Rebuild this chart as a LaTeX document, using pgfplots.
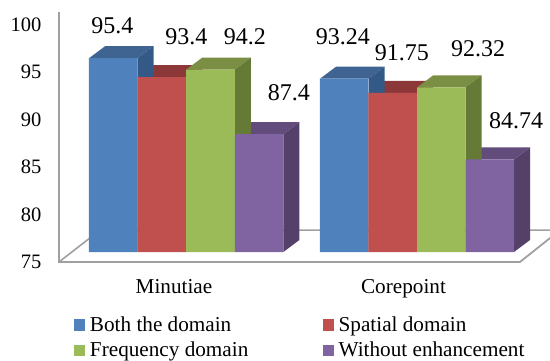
\documentclass[border=0pt]{standalone}
\usepackage{pgfplots}
\pgfplotsset{compat=1.18}
\usepackage{fontspec}
\setmainfont{Liberation Serif}
\definecolor{bluef}{HTML}{4F81BD}\definecolor{bluet}{HTML}{3F6492}\definecolor{blues}{HTML}{335A87}
\definecolor{redf}{HTML}{C0504D}\definecolor{redt}{HTML}{8C3838}\definecolor{reds}{HTML}{8C3836}
\definecolor{greenf}{HTML}{9BBB59}\definecolor{greent}{HTML}{7A8E44}\definecolor{greens}{HTML}{667A38}
\definecolor{purplef}{HTML}{8064A2}\definecolor{purplet}{HTML}{624C7C}\definecolor{purples}{HTML}{544068}
\definecolor{floorline}{HTML}{A0A0A0}

% top and side faces of a bar: left edge, right edge, value
\newcommand{\barTop}[4]{%
  \pgfmathsetmacro{\ys}{#3+1.263}\pgfmathsetmacro{\xa}{#1+16}\pgfmathsetmacro{\xb}{#2+16}%
  \addplot[forget plot,fill=#4,draw=none] coordinates {(#1,#3) (\xa,\ys) (\xb,\ys) (#2,#3)} --cycle;}
\newcommand{\barSide}[3]{%
  \pgfmathsetmacro{\ys}{#2+1.263}\pgfmathsetmacro{\xb}{#1+16}\pgfmathsetmacro{\yb}{76.263}%
  \addplot[forget plot,fill=#3,draw=none] coordinates {(#1,75) (#1,#2) (\xb,\ys) (\xb,\yb)} --cycle;}

\begin{document}
\begin{tikzpicture}[x=1pt,y=1pt]
\begin{axis}[
  scale only axis, width=491pt, height=252pt,
  xmin=59, xmax=550, ymin=75, ymax=101.526,
  clip mode=individual,
  axis line style={draw=none},
  axis x line*=bottom, axis y line*=left,
  major tick length=0pt,
  xtick={174,403.5}, xticklabels={Minutiae,Corepoint},
  ytick={75,80,85,90,95,100},
  yticklabel style={font=\fontsize{20.5}{20.5}\selectfont,anchor=east,xshift=-14pt,yshift=-10pt},
  /pgf/number format/assume math mode=true,
  xticklabel style={font=\fontsize{21.2}{21.2}\selectfont,anchor=base,yshift=-41.3pt},
  legend style={at={(axis cs:74,63.85)},anchor=south west,draw=none,fill=none,inner sep=0pt,outer sep=0pt,
    font=\fontsize{21.2}{21.2}\selectfont,
    /tikz/column 1/.style={column sep=4.7pt},
    /tikz/column 2/.style={column sep=74.3pt},
    /tikz/column 3/.style={column sep=4.7pt},
    row sep=9pt,
    nodes={inner sep=0pt,outer sep=0pt}},
  legend columns=2,
  legend cell align=left,
  legend image code/.code={\fill[#1,draw=none] (0pt,-6pt) rectangle (11.3pt,5.3pt);},
]
% floor and wall outline
\draw[floorline,line width=1.8pt] (axis cs:59,100.26) -- (axis cs:59,73.95) -- (axis cs:520,73.95) -- (axis cs:550,76.47);
\draw[floorline,line width=1.6pt] (axis cs:59,73.95) -- (axis cs:100,77.3) -- (axis cs:550,77.3);

% top and side faces, back to front within each group
\barTop{89}{137.6}{95.4}{bluet}
\barTop{137.6}{186.2}{93.4}{redt}
\barSide{137.6}{95.4}{blues}
\barSide{186.2}{93.4}{reds}
\barTop{186.2}{234.8}{94.2}{greent}
\barTop{234.8}{283.4}{87.4}{purplet}
\barSide{234.8}{94.2}{greens}
\barSide{283.4}{87.4}{purples}
\barTop{320}{368.5}{93.24}{bluet}
\barTop{368.5}{417}{91.75}{redt}
\barSide{368.5}{93.24}{blues}
\barSide{417}{91.75}{reds}
\barTop{417}{465.5}{92.32}{greent}
\barTop{465.5}{514}{84.74}{purplet}
\barSide{465.5}{92.32}{greens}
\barSide{514}{84.74}{purples}
% front faces, one series per enhancement method
\addplot[ybar,bar width=48.6,bar shift=-72.9,fill=bluef,draw=none] coordinates {(186.2,95.4) (417,93.24)};
\addplot[ybar,bar width=48.6,bar shift=-24.3,fill=redf,draw=none] coordinates {(186.2,93.4) (417,91.75)};
\addplot[ybar,bar width=48.6,bar shift=24.3,fill=greenf,draw=none] coordinates {(186.2,94.2) (417,92.32)};
\addplot[ybar,bar width=48.6,bar shift=72.9,fill=purplef,draw=none] coordinates {(186.2,87.4) (417,84.74)};
\legend{Both the domain,Spatial domain,Frequency domain,Without enhancement}

% value labels
\tikzset{val/.style={anchor=base,inner sep=0pt,font=\fontsize{24}{24}\selectfont}}
\node[val] at (axis cs:112.5,98.05) {95.4};
\node[val] at (axis cs:186.5,96.89) {93.4};
\node[val] at (axis cs:245,96.79) {94.2};
\node[val] at (axis cs:289,91.0) {87.4};
\node[val] at (axis cs:343,96.89) {93.24};
\node[val] at (axis cs:402,95.21) {91.75};
\node[val] at (axis cs:478,95.63) {92.32};
\node[val] at (axis cs:516,88.05) {84.74};
\end{axis}
\pgfresetboundingbox
\path[use as bounding box] ([shift={(-59pt,-108pt)}]current axis.south west) rectangle (current axis.north east);
\end{tikzpicture}
\end{document}
